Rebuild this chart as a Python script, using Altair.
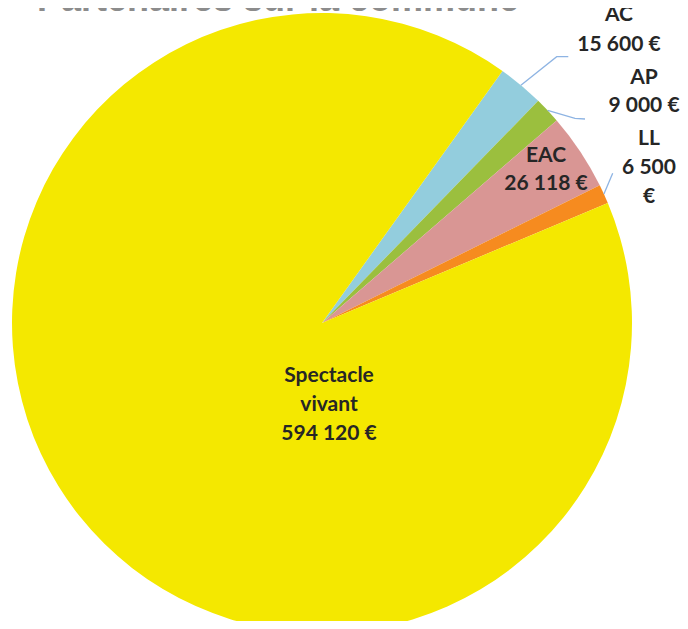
import math
import altair as alt
import pandas as pd

# ---- data ----
categories = ["AC", "AP", "EAC", "LL", "Spectacle vivant"]
values = [15600, 9000, 26118, 6500, 594120]
colors = ["#93CDDD", "#9BBF3E", "#D99694", "#F68B1F", "#F4E800"]
title_text = "Partenaires sur la commune"

# label lines per category (text split as in the reference)
def euro(v):
    return f"{v:,}".replace(",", " ") + " €"

label_lines = {
    "AC": ["AC", euro(15600)],
    "AP": ["AP", euro(9000)],
    "EAC": ["EAC", euro(26118)],
    "LL": ["LL", "6 500", "€"],
    "Spectacle vivant": ["Spectacle", "vivant", euro(594120)],
}

# ---- layout ----
W, H = 672, 613
CX, CY, R = 314, 315, 310
START = math.radians(35.6)
label_anchor = {          # x, baseline of first line, line step
    "AC": (611, 13, 30),
    "AP": (636, 76, 28),
    "EAC": (538, 154, 28),
    "LL": (641, 137, 29),
    "Spectacle vivant": (321, 374, 29),
}
leader_tail = {           # elbow / end points of the leader lines
    "AC": [(548.7, 48.7), (560.3, 48.7)],
    "AP": [(567, 110.3), (577, 111)],
    "LL": [(604.7, 165.3)],
}

df = pd.DataFrame({"categorie": categories, "valeur": values,
                   "ordre": list(range(len(categories)))})

pie = alt.Chart(df).mark_arc(radius=R).encode(
    theta=alt.Theta("valeur:Q", stack=True,
                    scale=alt.Scale(range=[START, START + 2 * math.pi])),
    color=alt.Color("categorie:N", scale=alt.Scale(domain=categories, range=colors),
                    legend=None),
    order=alt.Order("ordre:Q"),
    x=alt.value(CX),
    y=alt.value(CY),
)

# text rows
rows = []
for c in categories:
    x0, y0, step = label_anchor[c]
    for i, t in enumerate(label_lines[c]):
        rows.append({"t": t, "x": x0, "y": y0 + i * step})
tdf = pd.DataFrame(rows)
labels = alt.Chart(tdf).mark_text(
    font="Lato", fontWeight="bold", fontSize=21, color="#262626",
    align="center", baseline="alphabetic",
).encode(
    x=alt.X("x:Q", scale=None, axis=None),
    y=alt.Y("y:Q", scale=None, axis=None),
    text="t:N",
)

# leader lines, starting on the rim at the slice mid-angle
total = sum(values)
cum = 0
lrows = []
for c, v in zip(categories, values):
    mid = START + 2 * math.pi * (cum + v / 2) / total
    cum += v
    if c in leader_tail:
        pts = [(CX + R * math.sin(mid), CY - R * math.cos(mid))] + leader_tail[c]
        for k, (px, py) in enumerate(pts):
            lrows.append({"g": c, "k": k, "x": px, "y": py})
ldf = pd.DataFrame(lrows)
leaders = alt.Chart(ldf).mark_line(color="#8EB4E3", strokeWidth=1.3).encode(
    x=alt.X("x:Q", scale=None, axis=None),
    y=alt.Y("y:Q", scale=None, axis=None),
    detail="g:N",
    order="k:Q",
)

title = alt.Chart(pd.DataFrame({"t": [title_text]})).mark_text(
    font="Liberation Sans", fontWeight="bold", fontSize=36, color="#8C8C8C",
    align="center", baseline="alphabetic",
).encode(x=alt.value(270), y=alt.value(3), text="t:N")

chart = alt.layer(pie, leaders, labels, title).properties(
    width=W, height=H,
    autosize=alt.AutoSizeParams(type="none"),
    padding=0,
).configure_view(stroke=None)

chart.save("out.html", embed_options={"renderer": "svg", "actions": False})
